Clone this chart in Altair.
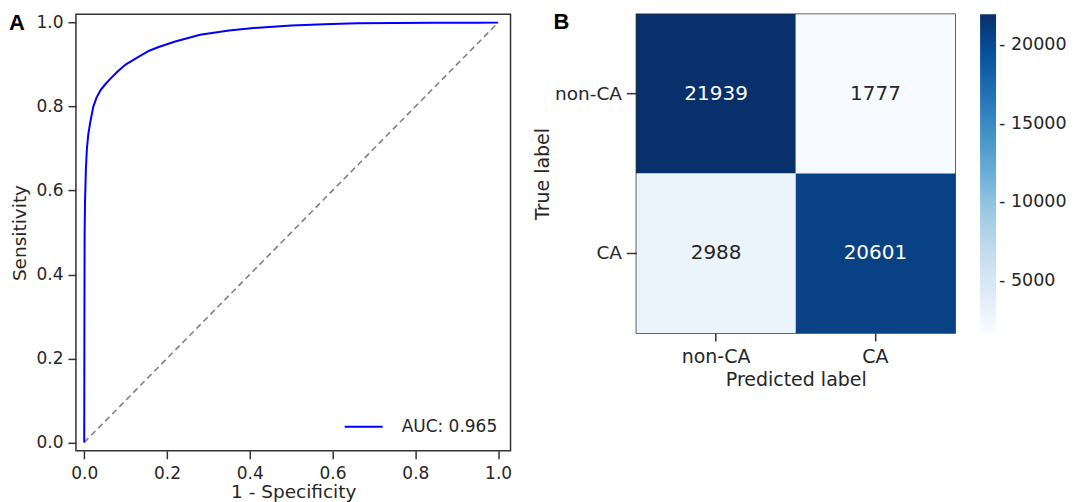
import altair as alt
import pandas as pd

# ---------------- Data ----------------
# ROC curve
fpr = [0.0, 0.0005, 0.001, 0.002, 0.004, 0.0065, 0.01, 0.015, 0.022, 0.03, 0.04,
       0.05, 0.06, 0.08, 0.10, 0.13, 0.157, 0.18, 0.22, 0.28, 0.35, 0.42, 0.50,
       0.58, 0.66, 0.75, 0.85, 0.95, 1.0]
tpr = [0.0, 0.30, 0.50, 0.575, 0.65, 0.70, 0.735, 0.765, 0.80, 0.822, 0.84,
       0.852, 0.863, 0.883, 0.90, 0.918, 0.933, 0.942, 0.955, 0.971, 0.981, 0.988, 0.993,
       0.996, 0.9985, 0.9993, 0.9997, 0.9999, 1.0]
auc_label = "AUC: 0.965"
chance_x = [0.0, 1.0]
chance_y = [0.0, 1.0]
roc_ticks = [0.0, 0.2, 0.4, 0.6, 0.8, 1.0]

# Confusion matrix
classes = ["non-CA", "CA"]
true_labels = ["non-CA", "non-CA", "CA", "CA"]
pred_labels = ["non-CA", "CA", "non-CA", "CA"]
counts = [21939, 1777, 2988, 20601]
cbar_ticks = [5000, 10000, 15000, 20000]
blues = ["#f7fbff", "#deebf7", "#c6dbef", "#9ecae1", "#6baed6",
         "#4292c6", "#2171b5", "#08519c", "#08306b"]

FONT = "DejaVu Sans"
TXT = "#262626"
FRAME = "#333333"

# ---------------- Panel A: ROC ----------------
roc_df = pd.DataFrame({"fpr": fpr, "tpr": tpr, "order": list(range(len(fpr))),
                       "series": [auc_label] * len(fpr)})
chance_df = pd.DataFrame({"fpr": chance_x, "tpr": chance_y})

xsc = alt.Scale(domain=[-0.02, 1.03], nice=False, zero=False)
ysc = alt.Scale(domain=[-0.02, 1.02], nice=False, zero=False)
xax = alt.Axis(values=roc_ticks, format=".1f", title="1 - Specificity",
               labelFontSize=17, titleFontSize=18.5, labelPadding=7, titlePadding=1)
yax = alt.Axis(values=roc_ticks, format=".1f", title="Sensitivity",
               labelFontSize=17, titleFontSize=18.5, labelPadding=5, titlePadding=6)

chance = alt.Chart(chance_df).mark_line(color="#808080", strokeWidth=1.6,
                                         strokeDash=[6, 4]).encode(
    x=alt.X("fpr:Q", scale=xsc, axis=xax),
    y=alt.Y("tpr:Q", scale=ysc, axis=yax),
)
roc = alt.Chart(roc_df).mark_line(strokeWidth=2).encode(
    x=alt.X("fpr:Q", scale=xsc, axis=xax),
    y=alt.Y("tpr:Q", scale=ysc, axis=yax),
    order="order:Q",
    color=alt.Color("series:N",
                    scale=alt.Scale(domain=[auc_label], range=["#0000ff"]),
                    legend=alt.Legend(title=None, orient="none", legendX=268, legendY=393,
                                      symbolType="stroke", symbolSize=1444,
                                      symbolStrokeWidth=2, labelFontSize=17,
                                      labelOffset=18, padding=0, labelColor=TXT,
                                      labelFont=FONT)),
)
label_a = alt.Chart(pd.DataFrame({"t": ["A"]})).mark_text(
    font="Liberation Sans", fontWeight="bold", fontSize=22, align="left",
    baseline="middle", color="black").encode(
    text="t:N", x=alt.value(-67), y=alt.value(9))

left = alt.layer(chance, roc, label_a).properties(width=435, height=437)

# ---------------- Panel B: confusion matrix ----------------
cm_df = pd.DataFrame({"true": true_labels, "pred": pred_labels, "count": counts})
lo, hi = min(counts), max(counts)
stops = [lo + (hi - lo) * i / (len(blues) - 1) for i in range(len(blues))]
thresh = (lo + hi) / 2

base = alt.Chart(cm_df).encode(
    x=alt.X("pred:N", sort=classes, title="Predicted label",
            scale=alt.Scale(paddingInner=0, paddingOuter=0),
            axis=alt.Axis(labelAngle=0, labelFontSize=19, titleFontSize=19,
                          labelPadding=7, titlePadding=4)),
    y=alt.Y("true:N", sort=classes, title="True label",
            scale=alt.Scale(paddingInner=0, paddingOuter=0),
            axis=alt.Axis(labelFontSize=18.5, titleFontSize=19, tickSize=10,
                          labelPadding=5, titlePadding=2)),
)
cells = base.mark_rect().encode(
    color=alt.Color("count:Q",
                    scale=alt.Scale(domain=stops, range=blues, interpolate="rgb"),
                    legend=alt.Legend(title=None, orient="right", offset=25,
                                      gradientLength=318, gradientThickness=16,
                                      gradientStrokeWidth=0, values=cbar_ticks,
                                      labelFontSize=17.5, labelColor=TXT, labelFont=FONT,
                                      labelOffset=3, labelOverlap=False,
                                      labelExpr="'- ' + format(datum.value, 'd')")),
)
nums = base.mark_text(font=FONT, fontSize=20).encode(
    text=alt.Text("count:Q", format="d"),
    color=alt.condition(alt.datum.count > thresh, alt.value("white"), alt.value(TXT)),
)
label_b = alt.Chart(pd.DataFrame({"t": ["B"]})).mark_text(
    font="Liberation Sans", fontWeight="bold", fontSize=22, align="left",
    baseline="middle", color="black").encode(
    text="t:N", x=alt.value(-83), y=alt.value(8))

right = alt.layer(cells, nums, label_b).properties(width=319, height=319)

chart = alt.hconcat(left, right, spacing=20).properties(
    padding={"left": 0, "top": 2, "right": 0, "bottom": 2},
    background="white",
).configure_view(
    stroke=FRAME, strokeWidth=1.5
).configure_axis(
    labelFont=FONT, titleFont=FONT, labelColor=TXT, titleColor=TXT,
    titleFontWeight="normal", tickColor=FRAME, tickWidth=1.5, tickSize=8,
    domain=False, grid=False,
)

chart.save("out.html", embed_options={"renderer": "svg", "actions": False})
